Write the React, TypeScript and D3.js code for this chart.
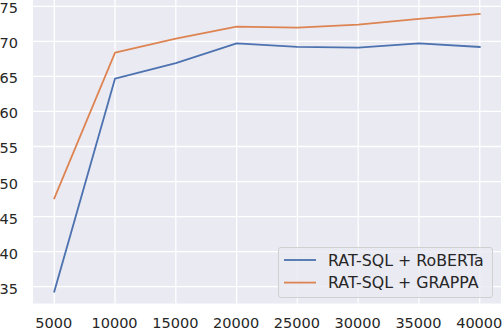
import { useEffect, useRef } from 'react';
import * as d3 from 'd3';

const steps = [5000, 10000, 15000, 20000, 25000, 30000, 35000, 40000];
const robertaScores = [34.3, 64.7, 66.9, 69.7, 69.2, 69.1, 69.7, 69.2];
const grappaScores = [47.6, 68.4, 70.4, 72.1, 71.95, 72.4, 73.2, 73.9];
const yTicks = [35, 40, 45, 50, 55, 60, 65, 70, 75];
const seriesNames = ['RAT-SQL + RoBERTa', 'RAT-SQL + GRAPPA'];
const seriesColors = ['#4c72b0', '#dd8452'];

const App = () => {
    const svgRef = useRef(null);

    useEffect(() => {
        const svg = d3.select(svgRef.current);
        svg.selectAll('*').remove();

        const left = 33, right = 501, top = 0, bottom = 303.5;
        const font = 'DejaVu Sans, sans-serif';

        const x = d3.scaleLinear().domain([3250, 41750]).range([left, right]);
        const y = d3.scaleLinear().domain([32.6, 75.9]).range([bottom, top]);

        // background
        svg.append('rect')
            .attr('x', left).attr('y', top)
            .attr('width', right - left).attr('height', bottom - top)
            .attr('fill', '#eaeaf2');

        // grid
        const grid = svg.append('g').attr('stroke', '#ffffff').attr('stroke-width', 1.3);
        steps.forEach(s => {
            grid.append('line')
                .attr('x1', x(s)).attr('x2', x(s))
                .attr('y1', top).attr('y2', bottom);
        });
        yTicks.forEach(t => {
            grid.append('line')
                .attr('x1', left).attr('x2', right)
                .attr('y1', y(t)).attr('y2', y(t));
        });

        // tick labels
        svg.append('g').selectAll('text')
            .data(steps)
            .enter()
            .append('text')
            .attr('x', d => x(d) - 0.5)
            .attr('y', 328.3)
            .attr('text-anchor', 'middle')
            .style('font-family', font)
            .style('font-size', '14.5px')
            .attr('fill', '#262626')
            .text(d => d);

        svg.append('g').selectAll('text')
            .data(yTicks)
            .enter()
            .append('text')
            .attr('x', 18)
            .attr('y', d => y(d) + 7)
            .attr('text-anchor', 'end')
            .style('font-family', font)
            .style('font-size', '14.5px')
            .attr('fill', '#262626')
            .text(d => d);

        // lines
        const line = d3.line<number>()
            .x((d, i) => x(steps[i]))
            .y(d => y(d));

        [robertaScores, grappaScores].forEach((vals, i) => {
            svg.append('path')
                .datum(vals)
                .attr('d', line)
                .attr('fill', 'none')
                .attr('stroke', seriesColors[i])
                .attr('stroke-width', 1.8)
                .attr('stroke-linejoin', 'round')
                .attr('stroke-linecap', 'square');
        });

        // legend
        const legend = svg.append('g');
        legend.append('rect')
            .attr('x', 278.5).attr('y', 247.5)
            .attr('width', 214).attr('height', 50)
            .attr('rx', 2.5)
            .attr('fill', '#eaeaf2')
            .attr('fill-opacity', 0.8)
            .attr('stroke', '#d0d0d0')
            .attr('stroke-width', 1);

        seriesNames.forEach((name, i) => {
            const ly = 260 + i * 22.6;
            legend.append('line')
                .attr('x1', 284).attr('x2', 316)
                .attr('y1', ly).attr('y2', ly)
                .attr('stroke', seriesColors[i])
                .attr('stroke-width', 1.8);
            legend.append('text')
                .attr('x', 328)
                .attr('y', ly + 5.8)
                .style('font-family', font)
                .style('font-size', '15.8px')
                .attr('fill', '#262626')
                .text(name);
        });
    }, []);

    return (
        <svg ref={svgRef} width={502} height={330} style={{ position: 'absolute', left: 0, top: 0 }}></svg>
    );
};

export default App;
